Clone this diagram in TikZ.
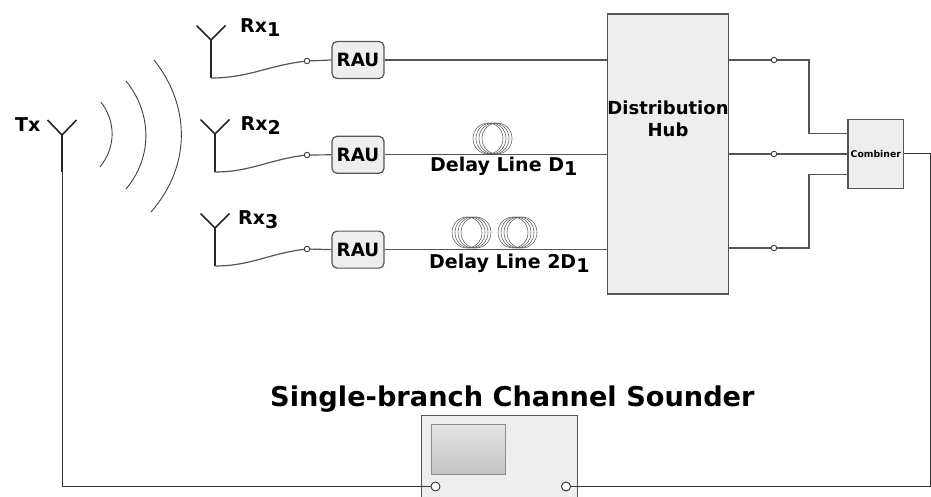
\documentclass[tikz,border=0pt]{standalone}
\usepackage{fontspec}
\setmainfont{DejaVu Sans}
\usetikzlibrary{positioning}
\definecolor{linegray}{HTML}{555555}
\definecolor{boxgray}{HTML}{EEEEEE}
\newcommand{\lowdigit}[1]{\raisebox{-4pt}{#1}}

\begin{document}
\begin{tikzpicture}[
            x=1pt, y=-1pt,
            node distance=56.6pt, % gap between the RAU boxes
            wire/.style={draw=linegray, line width=1.2pt},
            antenna/.style={draw=black!85, line width=1.6pt},
            wave/.style={draw=black!75, line width=0.9pt},
            coil/.style={draw=black!65, line width=0.55pt},
            box/.style={draw=linegray, fill=boxgray, line width=1.2pt, inner sep=0pt},
            rau/.style={box, rounded corners=5pt, minimum width=52pt, minimum height=37pt, font=\fontsize{18.3}{20}\selectfont\bfseries},
            tap/.style={circle, draw=black!75, fill=white, line width=0.9pt, inner sep=0pt, minimum size=5.5pt},
            port/.style={circle, draw=black!80, fill=white, line width=0.9pt, inner sep=0pt, minimum size=9pt},
            lbl/.style={inner sep=0pt, anchor=base west, font=\fontsize{19}{22}\selectfont\bfseries}
        ]
            \useasboundingbox (0,0) rectangle (931,497);

            % boxes
            \node [rau] (rau1) at (358,60) {RAU};
            \node [rau, below=of rau1] (rau2) {RAU};
            \node [rau, below=of rau2] (rau3) {RAU};
            \node [box, minimum width=121pt, minimum height=280pt] (hub) at (667.8,154) {};
            \node [box, minimum width=55.7pt, minimum height=69pt, font=\fontsize{9.3}{10}\selectfont\bfseries] (combiner) at (875.8,153.8) {Combiner};
            \node [box, minimum width=156pt, minimum height=92pt] (sounder) at (499.7,461.5) {};
            \node [draw=black!45, line width=0.9pt, top color=black!10, bottom color=black!24, inner sep=0pt, minimum width=74pt, minimum height=50.5pt] (screen) at (468,449.5) {};

            % labels
            \node [lbl] (txlabel) at (15,131.5) {Tx};
            \node [lbl] (rx1label) at (240,33) {Rx\lowdigit{1}};
            \node [lbl] (rx2label) at (240.5,131) {Rx\lowdigit{2}};
            \node [lbl] (rx3label) at (238,224) {Rx\lowdigit{3}};
            \node [lbl] (d1label) at (430,172) {Delay Line D\lowdigit{1}};
            \node [lbl] (d2label) at (429,268) {Delay Line 2D\lowdigit{1}};
            \node [lbl, anchor=center, align=center, font=\fontsize{18}{22}\selectfont\bfseries] (hublabel) at (668,118.5) {Distribution\\Hub};
            \node [lbl, font=\fontsize{27.2}{30}\selectfont\bfseries] (title) at (270,406.7) {Single-branch Channel Sounder};

            % small circles
            \node [tap] (tapa) at (307,61) {};
            \node [tap] (tapb) at (307,155) {};
            \node [tap] (tapc) at (307,249) {};
            \node [tap] (tapd) at (774,60) {};
            \node [tap] (tape) at (774,154) {};
            \node [tap] (tapf) at (774,248) {};
            \node [port] (port1) at (435.5,486.5) {};
            \node [port] (port2) at (566,486.5) {};

            % antennas
            \coordinate (tx) at (62,135);
            \coordinate (txbase) at (62,172);
            \coordinate (rx1) at (211,40);
            \coordinate (rx1base) at (211,78);
            \coordinate (rx2) at (215,134);
            \coordinate (rx2base) at (215,172);
            \coordinate (rx3) at (215,228);
            \coordinate (rx3base) at (215,266);
            \draw [antenna] (tx) ++(-14.5,-15) -- (tx) -- ++(14.5,-15);
            \draw [antenna] (tx) -- (txbase);
            \draw [antenna] (rx1) ++(-14.5,-14.5) -- (rx1) -- ++(14.5,-14.5);
            \draw [antenna] (rx1) -- (rx1base);
            \draw [antenna] (rx2) ++(-14.5,-14.5) -- (rx2) -- ++(14.5,-14.5);
            \draw [antenna] (rx2) -- (rx2base);
            \draw [antenna] (rx3) ++(-14.5,-14.5) -- (rx3) -- ++(14.5,-14.5);
            \draw [antenna] (rx3) -- (rx3base);

            % waves
            \draw [wave] (101,102) .. controls (116,122) and (116,147) .. (100,167);
            \draw [wave] (126,81) .. controls (152,113) and (153,157) .. (126,189);
            \draw [wave] (154,60) .. controls (190,105) and (192,165) .. (151,212);

            % delay coils
            \foreach \cx in {488,491,494,497}
                \draw [coil] (\cx,138.5) ellipse (15pt and 15.5pt);
            \foreach \cx in {467,470,473,476,513,516,519,522}
                \draw [coil] (\cx,232.5) ellipse (15pt and 15.5pt);

            % receive side
            \draw [wire] (rx1base) to[out=0, in=187] (tapa);
            \draw [wire] (rx2base) to[out=0, in=187] (tapb);
            \draw [wire] (rx3base) to[out=0, in=187] (tapc);
            \draw [wire] (tapa) -- (rau1.west);
            \draw [wire] (tapb) -- (rau2.west);
            \draw [wire] (tapc) -- (rau3.west);
            \draw [wire] (rau1.east) -- (rau1.east -| hub.west);
            \draw [wire] (rau2.east) -- (rau2.east -| hub.west);
            \draw [wire] (rau3.east) -- (rau3.east -| hub.west);

            % hub to combiner
            \coordinate (in1) at (848,133.3);
            \coordinate (in3) at (848,174.3);
            \coordinate (bend1) at (809,60);
            \coordinate (bend3) at (809,248);
            \draw [wire] (tapd -| hub.east) -- (tapd);
            \draw [wire] (tape -| hub.east) -- (tape);
            \draw [wire] (tapf -| hub.east) -- (tapf);
            \draw [wire] (tapd) -- (bend1) |- (in1);
            \draw [wire] (tape) -- (tape -| combiner.west);
            \draw [wire] (tapf) -- (bend3) |- (in3);

            % back to the sounder
            \coordinate (cornerl) at (62,486.5);
            \coordinate (cornerr) at (930.3,486.5);
            \draw [wire, line width=1pt, draw=black!80] (txbase) -- (cornerl) -- (port1);
            \draw [wire, line width=1pt, draw=black!80] (combiner.east) -| (cornerr) -- (port2);
        \end{tikzpicture}
\end{document}
